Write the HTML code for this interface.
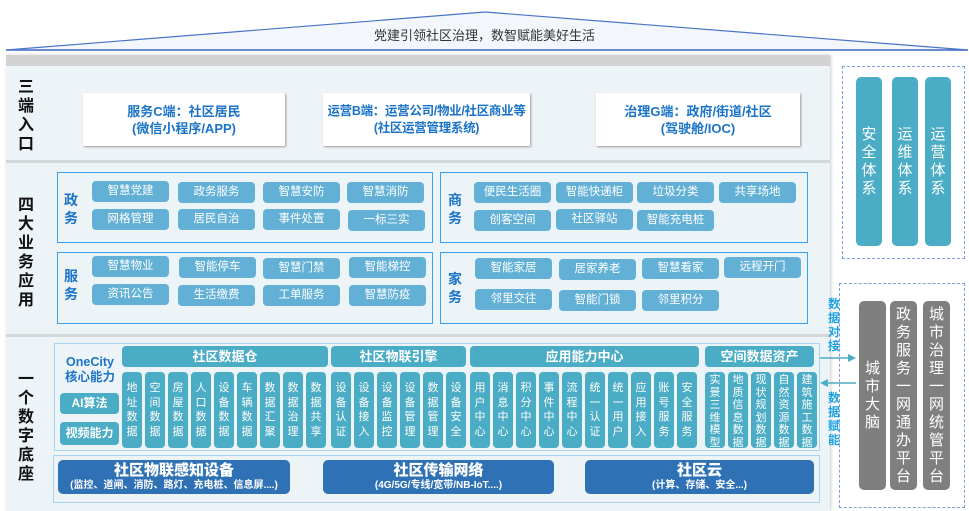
<!DOCTYPE html>
<html><head><meta charset="utf-8"><style>
*{margin:0;padding:0;box-sizing:border-box}
body{width:969px;height:511px;position:relative;background:#fff;font-family:"Liberation Sans","Noto Sans CJK SC",sans-serif;overflow:hidden}
.a{position:absolute}
.vl{position:absolute;width:20px;font-size:16px;font-weight:bold;line-height:19px;text-align:center;color:#111}
.wb{position:absolute;background:#fff;box-shadow:1px 1px 2px #999;color:#1a73c9;font-weight:bold;font-size:13px;text-align:center;line-height:17px;display:flex;flex-direction:column;justify-content:center;white-space:nowrap}
.grp{position:absolute;border:1.5px solid #3aa0f0}
.gl{position:absolute;color:#1a73c9;font-weight:bold;font-size:14px;width:16px;line-height:18px}
.p{position:absolute;background:#62b0d6;color:#fff;font-size:11.5px;border-radius:4px;text-align:center;height:21px;line-height:21px;width:77px}
.h{position:absolute;background:#4aacc5;color:#fff;font-weight:bold;font-size:13px;text-align:center;border-radius:4px;height:21px;line-height:21px;top:346px}
.c{position:absolute;background:#4aacc5;color:#fff;font-size:11px;line-height:14.5px;text-align:center;border-radius:4px;top:372px;height:76px;width:20px;padding:9px 4px 0}
.c.s{line-height:12.5px;padding-top:2px}
.bb{position:absolute;background:#2e72b5;color:#fff;text-align:center;border-radius:5px;top:460px;height:34px;font-weight:bold}
.bb b{display:block;font-size:15px;line-height:19px;margin-top:1px}
.bb span{display:block;font-size:10px;line-height:12px}
.pil{position:absolute;color:#fff;font-size:15px;text-align:center;border-radius:5px;line-height:18px;display:flex;flex-direction:column;justify-content:center;align-items:center}
.blu{position:absolute;color:#1ba1e2;font-weight:bold;font-size:12px;width:14px;line-height:14px}
</style></head><body>
<svg class="a" style="left:0;top:0" width="969" height="60">
<polygon points="6,50 485,12 968,50" fill="#f3f7fc" stroke="#4a74c9" stroke-width="1.2"/>
<line x1="6" y1="50" x2="968" y2="50" stroke="#4a74c9" stroke-width="1.5"/>
</svg>
<div class="a" style="left:0;width:969px;top:25px;text-align:center;font-size:13px;color:#333">党建引领社区治理，数智赋能美好生活</div>

<div class="a" style="left:6px;top:55px;width:824px;height:456px;background:#edf4f8;box-shadow:1px 0 3px #ccc"></div>
<div class="a" style="left:6px;top:55px;width:824px;height:11px;background:#d3d3d3"></div>
<div class="a" style="left:6px;top:160px;width:824px;height:3px;background:#d5d8da"></div>
<div class="a" style="left:6px;top:334px;width:824px;height:3px;background:#d5d8da"></div>

<div class="vl" style="left:16px;top:78px">三<br>端<br>入<br>口</div>
<div class="vl" style="left:16px;top:196px">四<br>大<br>业<br>务<br>应<br>用</div>
<div class="vl" style="left:16px;top:370px">一<br>个<br>数<br>字<br>底<br>座</div>

<div class="wb" style="left:83px;top:93px;width:202px;height:53px">服务C端：社区居民<br>(微信小程序/APP)</div>
<div class="wb" style="left:323px;top:93px;width:207px;height:53px;font-size:12.5px;letter-spacing:-0.3px">运营B端：运营公司/物业/社区商业等<br>(社区运营管理系统)</div>
<div class="wb" style="left:596px;top:93px;width:204px;height:53px">治理G端：政府/街道/社区<br>(驾驶舱/IOC)</div>

<div class="grp" style="left:57px;top:172px;width:376px;height:71px"></div>
<div class="grp" style="left:57px;top:252px;width:376px;height:72px"></div>
<div class="grp" style="left:440px;top:172px;width:368px;height:71px"></div>
<div class="grp" style="left:440px;top:252px;width:368px;height:72px"></div>
<div class="gl" style="left:64px;top:191px">政<br>务</div>
<div class="gl" style="left:64px;top:267px">服<br>务</div>
<div class="gl" style="left:448px;top:191px">商<br>务</div>
<div class="gl" style="left:448px;top:270px">家<br>务</div>

<div class="p" style="left:92px;top:181px">智慧党建</div>
<div class="p" style="left:178px;top:182px">政务服务</div>
<div class="p" style="left:263px;top:182px">智慧安防</div>
<div class="p" style="left:347px;top:182px">智慧消防</div>
<div class="p" style="left:92px;top:209px">网格管理</div>
<div class="p" style="left:178px;top:209px">居民自治</div>
<div class="p" style="left:263px;top:209px">事件处置</div>
<div class="p" style="left:348px;top:210px">一标三实</div>
<div class="p" style="left:92px;top:256px">智慧物业</div>
<div class="p" style="left:179px;top:257px">智能停车</div>
<div class="p" style="left:263px;top:258px">智慧门禁</div>
<div class="p" style="left:349px;top:257px">智能梯控</div>
<div class="p" style="left:92px;top:284px">资讯公告</div>
<div class="p" style="left:178px;top:285px">生活缴费</div>
<div class="p" style="left:263px;top:285px">工单服务</div>
<div class="p" style="left:349px;top:285px">智慧防疫</div>

<div class="p" style="left:474px;top:182px">便民生活圈</div>
<div class="p" style="left:556px;top:182px">智能快递柜</div>
<div class="p" style="left:637px;top:182px">垃圾分类</div>
<div class="p" style="left:719px;top:182px">共享场地</div>
<div class="p" style="left:474px;top:210px">创客空间</div>
<div class="p" style="left:556px;top:209px">社区驿站</div>
<div class="p" style="left:637px;top:210px">智能充电桩</div>
<div class="p" style="left:475px;top:258px">智能家居</div>
<div class="p" style="left:559px;top:259px">居家养老</div>
<div class="p" style="left:642px;top:258px">智慧看家</div>
<div class="p" style="left:724px;top:257px">远程开门</div>
<div class="p" style="left:475px;top:289px">邻里交往</div>
<div class="p" style="left:559px;top:290px">智能门锁</div>
<div class="p" style="left:642px;top:290px">邻里积分</div>

<div class="a" style="left:54px;top:343px;width:766px;height:108px;border:1px solid #a8d4f0"></div>
<div class="a" style="left:60px;top:355px;width:60px;text-align:center;color:#1a73c9;font-weight:bold;font-size:12.5px;line-height:15px">OneCity<br>核心能力</div>
<div class="a" style="left:60px;top:393px;width:59px;height:21px;line-height:21px;background:#4aacc5;color:#fff;font-weight:bold;font-size:12px;text-align:center;border-radius:4px">AI算法</div>
<div class="a" style="left:60px;top:422px;width:59px;height:23px;line-height:23px;background:#4aacc5;color:#fff;font-weight:bold;font-size:12px;text-align:center;border-radius:4px">视频能力</div>

<div class="h" style="left:122px;width:206px">社区数据仓</div>
<div class="h" style="left:331px;width:135px">社区物联引擎</div>
<div class="h" style="left:470px;width:229px">应用能力中心</div>
<div class="h" style="left:705px;width:109px">空间数据资产</div>

<div class="c" style="left:122px">地址数据</div>
<div class="c" style="left:145px">空间数据</div>
<div class="c" style="left:168px">房屋数据</div>
<div class="c" style="left:191px">人口数据</div>
<div class="c" style="left:214px">设备数据</div>
<div class="c" style="left:237px">车辆数据</div>
<div class="c" style="left:260px">数据汇聚</div>
<div class="c" style="left:283px">数据治理</div>
<div class="c" style="left:306px">数据共享</div>
<div class="c" style="left:331px">设备认证</div>
<div class="c" style="left:354px">设备接入</div>
<div class="c" style="left:377px">设备监控</div>
<div class="c" style="left:400px">设备管理</div>
<div class="c" style="left:423px">数据管理</div>
<div class="c" style="left:446px">设备安全</div>
<div class="c" style="left:470px">用户中心</div>
<div class="c" style="left:493px">消息中心</div>
<div class="c" style="left:516px">积分中心</div>
<div class="c" style="left:539px">事件中心</div>
<div class="c" style="left:562px">流程中心</div>
<div class="c" style="left:585px">统一认证</div>
<div class="c" style="left:608px">统一用户</div>
<div class="c" style="left:631px">应用接入</div>
<div class="c" style="left:654px">账号服务</div>
<div class="c" style="left:677px">安全服务</div>
<div class="c s" style="left:705px">实景三维模型</div>
<div class="c s" style="left:728px">地质信息数据</div>
<div class="c s" style="left:751px">现状规划数据</div>
<div class="c s" style="left:774px">自然资源数据</div>
<div class="c s" style="left:797px">建筑施工数据</div>

<div class="a" style="left:53px;top:455px;width:767px;height:48px;border:1px solid #a8d4f0"></div>
<div class="bb" style="left:58px;width:232px"><b>社区物联感知设备</b><span>(监控、道闸、消防、路灯、充电桩、信息屏....)</span></div>
<div class="bb" style="left:323px;width:231px"><b>社区传输网络</b><span>(4G/5G/专线/宽带/NB-IoT....)</span></div>
<div class="bb" style="left:585px;width:229px"><b>社区云</b><span>(计算、存储、安全...)</span></div>

<div class="a" style="left:842px;top:66px;width:123px;height:193px;border:1.5px dashed #7b9fe0"></div>
<div class="pil" style="left:856px;top:77px;width:26px;height:169px;background:#4aacc5">安<br>全<br>体<br>系</div>
<div class="pil" style="left:892px;top:77px;width:26px;height:169px;background:#4aacc5">运<br>维<br>体<br>系</div>
<div class="pil" style="left:925px;top:77px;width:26px;height:169px;background:#4aacc5">运<br>营<br>体<br>系</div>

<div class="a" style="left:839px;top:283px;width:126px;height:225px;border:1.5px dashed #7b9fe0"></div>
<div class="pil" style="left:859px;top:301px;width:27px;height:189px;background:#7f7f7f">城<br>市<br>大<br>脑</div>
<div class="pil" style="left:890px;top:301px;width:27px;height:189px;background:#7f7f7f">政<br>务<br>服<br>务<br>一<br>网<br>通<br>办<br>平<br>台</div>
<div class="pil" style="left:923px;top:301px;width:27px;height:189px;background:#7f7f7f">城<br>市<br>治<br>理<br>一<br>网<br>统<br>管<br>平<br>台</div>

<div class="blu" style="left:828px;top:297px">数<br>据<br>对<br>接</div>
<div class="blu" style="left:828px;top:391px">数<br>据<br>赋<br>能</div>
<svg class="a" style="left:818px;top:350px" width="40" height="40">
<line x1="2" y1="8" x2="32" y2="8" stroke="#4aacc5" stroke-width="1.5"/>
<polygon points="38,8 30,4 30,12" fill="#4aacc5"/>
<line x1="8" y1="33" x2="38" y2="33" stroke="#4aacc5" stroke-width="1.5"/>
<polygon points="2,33 10,29 10,37" fill="#4aacc5"/>
</svg>
</body></html>
